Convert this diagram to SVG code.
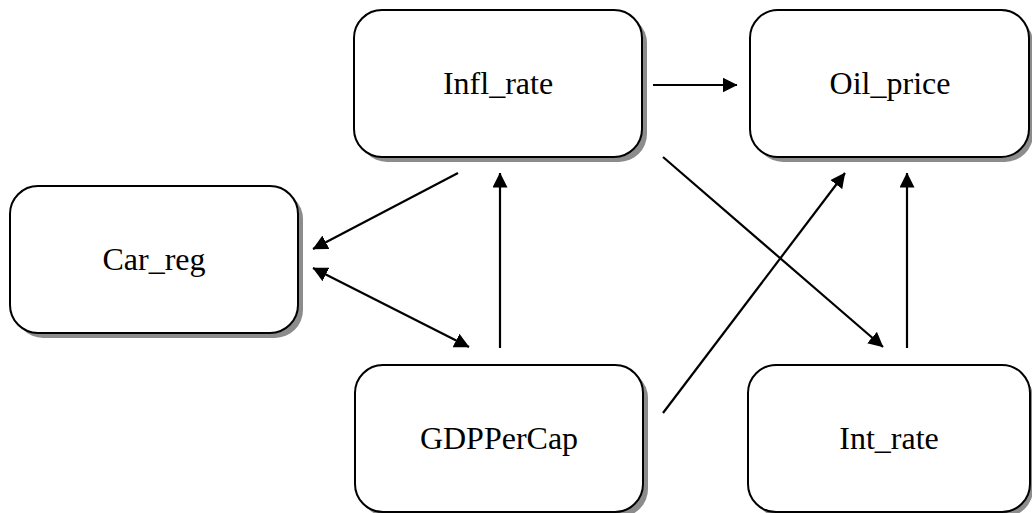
<svg xmlns="http://www.w3.org/2000/svg" width="1032" height="513" viewBox="0 0 1032 513">
  <style>
    .shadow { fill: #8c8c8c; }
    .box { fill: #ffffff; stroke: #000000; stroke-width: 2; }
    .label { font-family: "Liberation Serif", "Times New Roman", serif; font-size: 32px; fill: #000000; text-anchor: middle; }
    .edge { stroke: #000000; stroke-width: 2.2; fill: none; }
  </style>
  <defs>
    <marker id="arrow" viewBox="0 0 15 15" refX="14.5" refY="7.5" markerWidth="15" markerHeight="15" markerUnits="userSpaceOnUse" orient="auto-start-reverse">
      <path d="M0,0 L15,7.5 L0,15 Z" fill="#000000"/>
    </marker>
  </defs>
  <rect width="1032" height="513" fill="#ffffff"/>

  <!-- connectors -->
  <g id="connectors">
    <line class="edge" x1="653" y1="85" x2="737" y2="85" marker-end="url(#arrow)"/>
    <line class="edge" x1="458" y1="173" x2="313" y2="249" marker-end="url(#arrow)"/>
    <line class="edge" x1="313" y1="268" x2="469" y2="347" marker-start="url(#arrow)" marker-end="url(#arrow)"/>
    <line class="edge" x1="500" y1="348" x2="500" y2="173" marker-end="url(#arrow)"/>
    <line class="edge" x1="663" y1="413" x2="845" y2="173" marker-end="url(#arrow)"/>
    <line class="edge" x1="663" y1="157" x2="883" y2="347" marker-end="url(#arrow)"/>
    <line class="edge" x1="907" y1="348" x2="907" y2="173" marker-end="url(#arrow)"/>
  </g>

  <!-- nodes -->
  <g id="node-infl-rate">
    <rect class="shadow" x="359" y="15" width="288" height="147" rx="28"/>
    <rect class="box" x="354" y="10" width="288" height="147" rx="28"/>
    <text class="label" x="498" y="94">Infl_rate</text>
  </g>
  <g id="node-oil-price">
    <rect class="shadow" x="755" y="15" width="278" height="147" rx="28"/>
    <rect class="box" x="750" y="10" width="279" height="147" rx="28"/>
    <text class="label" x="890" y="94">Oil_price</text>
  </g>
  <g id="node-car-reg">
    <rect class="shadow" x="15" y="191" width="288" height="147" rx="28"/>
    <rect class="box" x="10" y="186" width="288" height="147" rx="28"/>
    <text class="label" x="154" y="270">Car_reg</text>
  </g>
  <g id="node-gdppercap">
    <rect class="shadow" x="360" y="370" width="288" height="147" rx="28"/>
    <rect class="box" x="355" y="365" width="288" height="147" rx="28"/>
    <text class="label" x="499" y="449">GDPPerCap</text>
  </g>
  <g id="node-int-rate">
    <rect class="shadow" x="753" y="370" width="280" height="147" rx="28"/>
    <rect class="box" x="748" y="365" width="282" height="147" rx="28"/>
    <text class="label" x="889" y="449">Int_rate</text>
  </g>
</svg>
